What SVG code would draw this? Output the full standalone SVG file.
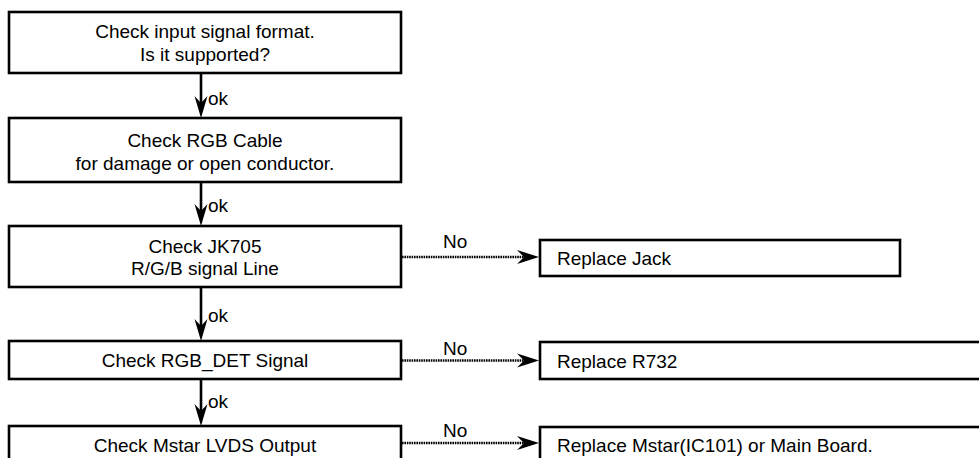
<svg xmlns="http://www.w3.org/2000/svg" width="979" height="458" viewBox="0 0 979 458">
  <style>
    .box { fill: #ffffff; stroke: #000000; stroke-width: 2.6; }
    .lbl { font-family: "Liberation Sans", Arial, sans-serif; font-size: 19px; fill: #000000; }
    .mid { text-anchor: middle; }
    .flow { stroke: #000000; stroke-width: 2.6; fill: none; }
    .no { stroke: #000000; stroke-width: 2.4; stroke-dasharray: 1.6 0.8; fill: none; }
    .head { fill: #000000; stroke: none; }
  </style>
  <defs>
    <!-- arrowhead pointing right, tip at origin -->
    <path id="headR" class="head" d="M0,0 L-22,-7 L-15,0 L-22,7 Z"/>
    <!-- arrowhead pointing down, tip at origin -->
    <path id="headD" class="head" d="M0,0 L-6.5,-22 L0,-15 L6.5,-22 Z"/>
  </defs>
  <rect width="979" height="458" fill="#ffffff"/>

  <g id="connectors">
    <line class="flow" x1="201" y1="73" x2="201" y2="110"/>
    <use href="#headD" x="201" y="118"/>
    <text class="lbl" x="208" y="105">ok</text>
    <line class="flow" x1="201" y1="182" x2="201" y2="218"/>
    <use href="#headD" x="201" y="226"/>
    <text class="lbl" x="208" y="212">ok</text>
    <line class="flow" x1="201" y1="287" x2="201" y2="333"/>
    <use href="#headD" x="201" y="341"/>
    <text class="lbl" x="208" y="322">ok</text>
    <line class="flow" x1="201" y1="379" x2="201" y2="418"/>
    <use href="#headD" x="201" y="426"/>
    <text class="lbl" x="208" y="408">ok</text>

    <line class="no" x1="402" y1="257" x2="528" y2="257"/>
    <use href="#headR" x="539" y="257"/>
    <text class="lbl" x="443" y="248">No</text>
    <line class="no" x1="402" y1="360.5" x2="528" y2="360.5"/>
    <use href="#headR" x="539" y="360.5"/>
    <text class="lbl" x="443" y="355">No</text>
    <line class="no" x1="402" y1="443" x2="528" y2="443"/>
    <use href="#headR" x="539" y="443"/>
    <text class="lbl" x="443" y="437">No</text>
  </g>

  <g id="check-format">
    <rect class="box" x="9" y="12" width="392" height="61"/>
    <text class="lbl mid" x="205" y="38">Check input signal format.</text>
    <text class="lbl mid" x="205" y="61">Is it supported?</text>
  </g>

  <g id="check-cable">
    <rect class="box" x="9" y="118" width="392" height="64"/>
    <text class="lbl mid" x="205" y="147">Check RGB Cable</text>
    <text class="lbl mid" x="205" y="170">for damage or open conductor.</text>
  </g>

  <g id="check-jk705">
    <rect class="box" x="9" y="226" width="392" height="61"/>
    <text class="lbl mid" x="205" y="253">Check JK705</text>
    <text class="lbl mid" x="205" y="275">R/G/B signal Line</text>
  </g>

  <g id="check-rgb-det">
    <rect class="box" x="9" y="341" width="392" height="38"/>
    <text class="lbl mid" x="205" y="367">Check RGB_DET Signal</text>
  </g>

  <g id="check-lvds">
    <rect class="box" x="9" y="426" width="392" height="60"/>
    <text class="lbl mid" x="205" y="452">Check Mstar LVDS Output</text>
  </g>

  <g id="replace-jack">
    <rect class="box" x="540" y="240" width="360" height="36"/>
    <text class="lbl" x="557" y="265">Replace Jack</text>
  </g>

  <g id="replace-r732">
    <rect class="box" x="540" y="342" width="460" height="37"/>
    <text class="lbl" x="557" y="368">Replace R732</text>
  </g>

  <g id="replace-mstar">
    <rect class="box" x="540" y="427" width="460" height="60"/>
    <text class="lbl" x="557" y="452">Replace Mstar(IC101) or Main Board.</text>
  </g>
</svg>
